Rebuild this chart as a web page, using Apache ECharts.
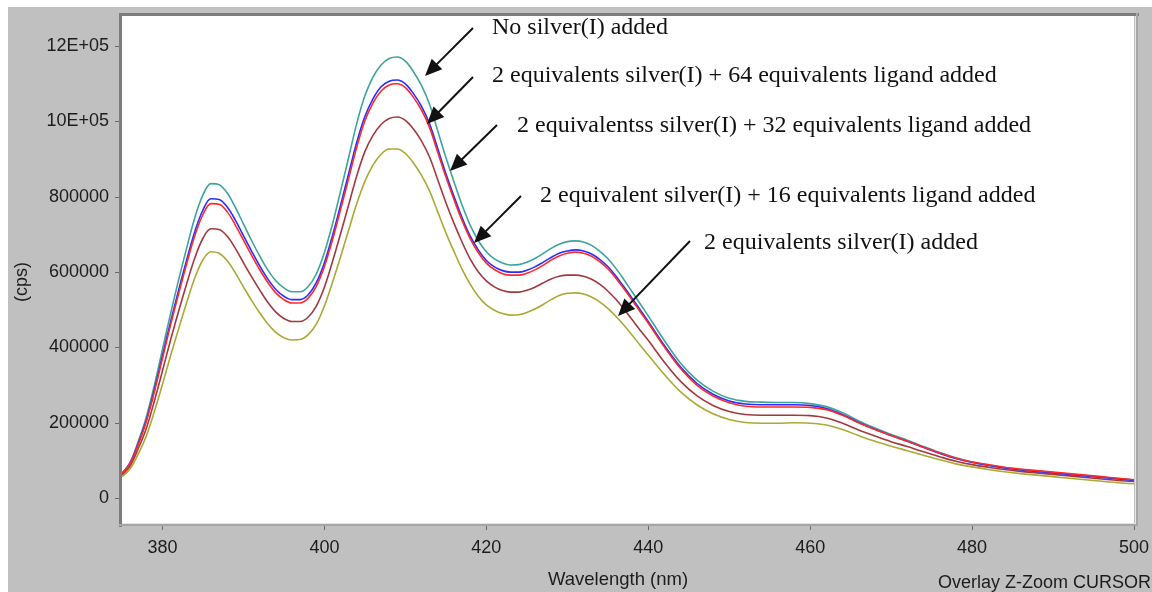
<!DOCTYPE html>
<html>
<head>
<meta charset="utf-8">
<script src="https://cdn.jsdelivr.net/npm/echarts@6/dist/echarts.min.js"></script>
<style>
  html, body { margin: 0; padding: 0; background: #ffffff; }
  #panel { position: absolute; left: 8px; top: 7px; width: 1144px; height: 585px; background: #c0c0c0; }
  #chart { position: absolute; left: 0; top: 0; width: 1152px; height: 592px; }
</style>
</head>
<body>
<div id="panel"></div>
<div id="chart"></div>
<script>
// Emission spectra (cps) versus wavelength (nm)
const wavelengths = [
  375, 376, 377, 378, 379, 380, 381, 382, 383, 384,
  385, 386, 387, 388, 389, 390, 391, 392, 393, 394,
  395, 396, 397, 398, 399, 400, 401, 402, 403, 404,
  405, 406, 407, 408, 409, 410, 411, 412, 413, 414,
  415, 416, 417, 418, 419, 420, 421, 422, 423, 424,
  425, 426, 427, 428, 429, 430, 431, 432, 433, 434,
  435, 436, 437, 438, 439, 440,
  442, 444, 446, 448, 450, 452, 454, 456, 458, 460,
  462, 464, 466, 468, 470, 472, 474, 476, 478, 480,
  482, 484, 486, 488, 490, 492, 494, 496, 498, 500
];

const noSilver = [
  66000, 95000, 150000, 215000, 300000, 395000, 490000, 580000, 665000, 745000,
  805000, 835000, 832000, 810000, 772000, 728000, 684000, 643000, 606000, 577000,
  558000, 548000, 548000, 562000, 595000, 652000, 728000, 815000, 905000, 995000,
  1068000, 1118000, 1150000, 1167000, 1171000, 1160000, 1132000, 1095000, 1045000, 975000,
  905000, 840000, 778000, 725000, 684000, 654000, 635000, 624000, 619000, 620000,
  626000, 636000, 649000, 663000, 674000, 681000, 683000, 680000, 671000, 656000,
  636000, 610000, 580000, 548000, 516000, 484000,
  418000, 358000, 314000, 284000, 265000, 257000, 255000, 254000, 254000, 251000,
  243000, 227000, 205000, 186000, 169000, 154000, 137000, 121000, 107000, 96000,
  88000, 81000, 76000, 72000, 68000, 64000, 60000, 56000, 52000, 48000
];

const ligand64 = [
  65000, 93000, 145000, 207000, 288000, 378000, 468000, 553000, 633000, 708000,
  765000, 795000, 793000, 773000, 738000, 697000, 656000, 617000, 582000, 554000,
  536000, 527000, 527000, 540000, 572000, 625000, 697000, 778000, 862000, 945000,
  1013000, 1060000, 1092000, 1107000, 1110000, 1100000, 1074000, 1040000, 993000, 928000,
  862000, 802000, 745000, 696000, 659000, 631000, 614000, 604000, 600000, 600000,
  605000, 614000, 626000, 639000, 650000, 656000, 659000, 656000, 648000, 634000,
  615000, 590000, 561000, 531000, 500000, 469000,
  405000, 348000, 305000, 276000, 258000, 250000, 248000, 248000, 248000, 246000,
  238000, 222000, 201000, 183000, 166000, 151000, 135000, 119000, 105000, 95000,
  87000, 80000, 75000, 71000, 67000, 63000, 59000, 55000, 51000, 47000
];

const ligand32 = [
  65000, 92000, 142000, 203000, 282000, 371000, 460000, 543000, 623000, 697000,
  753000, 782000, 780000, 760000, 725000, 685000, 645000, 607000, 573000, 545000,
  527000, 518000, 518000, 531000, 562000, 615000, 686000, 766000, 849000, 932000,
  1002000, 1049000, 1081000, 1097000, 1100000, 1090000, 1064000, 1030000, 983000, 918000,
  853000, 793000, 737000, 689000, 652000, 624000, 607000, 596000, 592000, 592000,
  597000, 606000, 618000, 632000, 643000, 650000, 653000, 650000, 642000, 628000,
  609000, 584000, 556000, 526000, 495000, 465000,
  401000, 344000, 300000, 271000, 253000, 244000, 242000, 242000, 242000, 241000,
  235000, 220000, 200000, 182000, 166000, 151000, 135000, 120000, 106000, 96000,
  89000, 82000, 77000, 73000, 69000, 65000, 61000, 57000, 53000, 49000
];

const ligand16 = [
  62000, 86000, 131000, 185000, 258000, 338000, 420000, 497000, 570000, 638000,
  690000, 715000, 713000, 695000, 663000, 625000, 588000, 553000, 520000, 494000,
  477000, 469000, 469000, 481000, 510000, 560000, 628000, 702000, 779000, 856000,
  920000, 963000, 992000, 1008000, 1012000, 1003000, 980000, 948000, 905000, 845000,
  785000, 730000, 680000, 635000, 601000, 577000, 561000, 551000, 547000, 547000,
  552000, 560000, 571000, 582000, 589000, 592000, 592000, 589000, 581000, 568000,
  550000, 528000, 502000, 474000, 446000, 419000,
  361000, 310000, 272000, 246000, 230000, 222000, 220000, 220000, 220000, 219000,
  213000, 199000, 181000, 165000, 150000, 137000, 123000, 110000, 98000, 89000,
  82000, 76000, 71000, 67000, 63000, 59000, 55000, 51000, 47000, 44000
];

const silverOnly = [
  57000, 78000, 117000, 165000, 230000, 302000, 378000, 450000, 520000, 585000,
  633000, 654000, 650000, 630000, 598000, 561000, 525000, 492000, 463000, 440000,
  426000, 420000, 421000, 434000, 462000, 510000, 573000, 641000, 712000, 782000,
  841000, 884000, 913000, 927000, 927000, 915000, 890000, 857000, 815000, 760000,
  705000, 655000, 608000, 568000, 536000, 513000, 499000, 490000, 486000, 487000,
  493000, 502000, 514000, 527000, 538000, 544000, 545000, 542000, 534000, 521000,
  504000, 483000, 459000, 433000, 406000, 380000,
  328000, 282000, 248000, 224000, 209000, 201000, 199000, 199000, 200000, 199000,
  194000, 182000, 166000, 151000, 138000, 126000, 114000, 102000, 91000, 83000,
  76000, 70000, 65000, 61000, 57000, 53000, 49000, 45000, 41000, 38000
];

const xTicks = [380, 400, 420, 440, 460, 480, 500];
const yTicks = [0, 200000, 400000, 600000, 800000, 1000000, 1200000];

const annotations = [
  'No silver(I) added',
  '2 equivalents silver(I) + 64 equivalents ligand added',
  '2 equivalentss silver(I) + 32 equivalents ligand added',
  '2 equivalent silver(I) + 16 equivalents ligand added',
  '2 equivalents silver(I) added'
];

const pairs = (vals) => wavelengths.map((w, i) => [w, vals[i]]);

const chart = echarts.init(document.getElementById('chart'), null, { renderer: 'canvas' });

const GRID = { left: 122, top: 16, right: 17, bottom: 69 };
const SANS = '"Liberation Sans", Arial, sans-serif';
const tickFont = { fontFamily: SANS, fontSize: 18, color: '#1c1c1c' };

function lineSeries(name, vals, color) {
  return {
    name, type: 'line', data: pairs(vals), showSymbol: false, smooth: 0.35,
    lineStyle: { color, width: 1.6 }, itemStyle: { color }, clip: true, silent: true
  };
}

// arrow: shaft plus a filled triangular head, pixel geometry
function arrow(x1, y1, x2, y2) {
  const dx = x2 - x1, dy = y2 - y1, L = Math.hypot(dx, dy);
  const ux = dx / L, uy = dy / L, hl = 17, hw = 7.5;
  const bx = x2 - ux * hl, by = y2 - uy * hl;
  return [
    { type: 'line', z: 100, shape: { x1, y1, x2: bx + ux * 2, y2: by + uy * 2 },
      style: { stroke: '#111', lineWidth: 2 } },
    { type: 'polygon', z: 100,
      shape: { points: [[x2, y2], [bx - uy * hw, by + ux * hw], [bx + uy * hw, by - ux * hw]] },
      style: { fill: '#111' } }
  ];
}

function note(text, x, y) {
  return { type: 'text', z: 100, x, y,
    style: { text, font: '24px "Liberation Serif", "Times New Roman", serif', fill: '#111',
             align: 'left', verticalAlign: 'middle' } };
}

const frame = [
  // sunken plot frame
  { type: 'rect', z: 90, shape: { x: 119, y: 13, width: 1020, height: 3 }, style: { fill: '#7c7c7c' } },
  { type: 'rect', z: 90, shape: { x: 119, y: 13, width: 3, height: 514 }, style: { fill: '#7c7c7c' } },
  { type: 'rect', z: 90, shape: { x: 122, y: 523, width: 1016, height: 1 }, style: { fill: '#e4e4e4' } },
  { type: 'rect', z: 90, shape: { x: 119, y: 524, width: 1019, height: 2 }, style: { fill: '#a6a6a6' } },
  { type: 'rect', z: 90, shape: { x: 1135, y: 16, width: 1, height: 508 }, style: { fill: '#e4e4e4' } },
  { type: 'rect', z: 90, shape: { x: 1136, y: 13, width: 2, height: 513 }, style: { fill: '#a6a6a6' } }
];

const labels = [
  { type: 'text', z: 100, x: 618, y: 580,
    style: { text: 'Wavelength (nm)', font: '18.5px ' + SANS, fill: '#1c1c1c',
             align: 'center', verticalAlign: 'middle' } },
  { type: 'text', z: 100, x: 22, y: 282, rotation: Math.PI / 2,
    style: { text: '(cps)', font: '18px ' + SANS, fill: '#1c1c1c',
             align: 'center', verticalAlign: 'middle' } },
  { type: 'text', z: 100, x: 1151, y: 583,
    style: { text: 'Overlay Z-Zoom CURSOR', font: '18px ' + SANS, fill: '#1c1c1c',
             align: 'right', verticalAlign: 'middle' } }
];

const notes = [
  note(annotations[0], 492, 28),
  note(annotations[1], 492, 76),
  note(annotations[2], 517, 126),
  note(annotations[3], 540, 196),
  note(annotations[4], 704, 243)
];

const arrows = [].concat(
  arrow(473, 28, 425, 76),
  arrow(473, 77, 427, 124),
  arrow(497, 125, 450, 171),
  arrow(521, 196, 474, 243),
  arrow(690, 241, 618, 316)
);

chart.setOption({
  backgroundColor: 'transparent',
  animation: false,
  grid: { ...GRID, show: true, backgroundColor: '#ffffff', borderWidth: 0 },
  xAxis: {
    type: 'value', min: 375, max: 500,
    axisLine: { show: false, onZero: false },
    axisTick: { show: true, inside: false, length: 7, customValues: xTicks, lineStyle: { color: '#6a6a6a' } },
    axisLabel: { ...tickFont, margin: 16, customValues: xTicks, formatter: (v) => String(v) },
    splitLine: { show: false }
  },
  yAxis: {
    type: 'value', min: -66000, max: 1280000,
    axisLine: { show: false, onZero: false },
    axisTick: { show: true, inside: false, length: 7, customValues: yTicks, lineStyle: { color: '#6a6a6a' } },
    axisLabel: { ...tickFont, margin: 13, customValues: yTicks,
      formatter: (v) => (v >= 1000000 ? (v / 100000) + 'E+05' : String(v)) },
    splitLine: { show: false }
  },
  series: [
    lineSeries('2 equivalents silver(I) added', silverOnly, '#a9a934'),
    lineSeries('2 equivalent silver(I) + 16 equivalents ligand added', ligand16, '#a3393f'),
    lineSeries('No silver(I) added', noSilver, '#3ea39c'),
    lineSeries('2 equivalents silver(I) + 64 equivalents ligand added', ligand64, '#2c2cff'),
    lineSeries('2 equivalentss silver(I) + 32 equivalents ligand added', ligand32, '#ff2a2a')
  ],
  graphic: { elements: [].concat(frame, labels, notes, arrows) }
});
</script>
</body>
</html>
